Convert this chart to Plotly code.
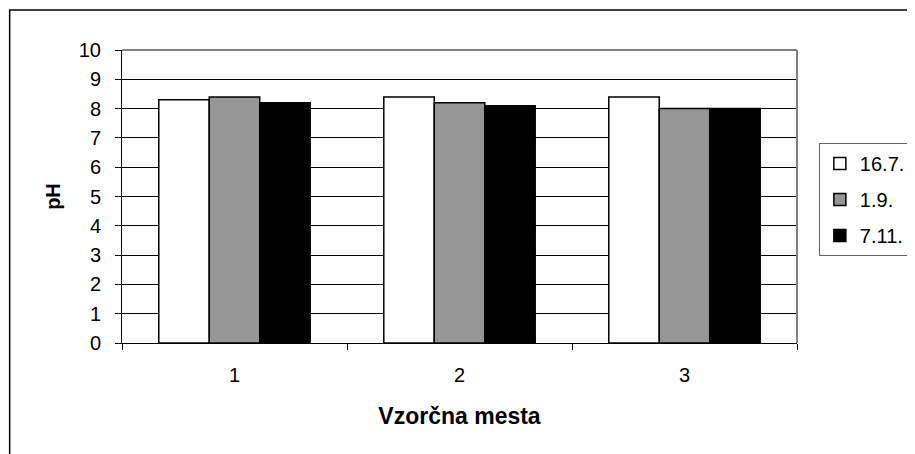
import plotly.graph_objects as go

categories = ["1", "2", "3"]
series_names = ["16.7.", "1.9.", "7.11."]
values_167 = [8.3, 8.4, 8.4]
values_19 = [8.4, 8.2, 8.0]
values_711 = [8.2, 8.1, 8.0]
y_ticks = [0, 1, 2, 3, 4, 5, 6, 7, 8, 9, 10]

FONT = "Arial, 'Liberation Sans', sans-serif"
colors = ["#FFFFFF", "#969696", "#000000"]
series_values = [values_167, values_19, values_711]

fig = go.Figure()
for i, (name, vals, col) in enumerate(zip(series_names, series_values, colors)):
    fig.add_trace(go.Bar(
        x=categories, y=vals, name=name,
        marker=dict(color=col, line=dict(color="#000000", width=1.5)),
        legendgroup="g%d" % i,
    ))

# page offset caused by the default 8px body margin of the html page
OFF = 8
W, H = 915, 454
# plot-area edges in page pixels
P_LEFT, P_RIGHT, P_TOP, P_BOTTOM = 122, 801, 50, 343
L = P_LEFT - OFF
R = W - (P_RIGHT - OFF)
T = P_TOP - OFF
B = H - (P_BOTTOM - OFF)
pw = W - L - R
ph = H - T - B

def px_x(p):
    return (p - OFF - L) / pw

def px_y(p):
    return (H - B - (p - OFF)) / ph

fig.update_layout(
    width=W, height=H,
    margin=dict(l=L, r=R, t=T, b=B, pad=0),
    paper_bgcolor="white", plot_bgcolor="white",
    barmode="group", bargap=0.327, bargroupgap=0,
    font=dict(family=FONT, size=20, color="black"),
    showlegend=True,
    legend=dict(
        x=px_x(823), y=px_y(143), xanchor="left", yanchor="top",
        bordercolor="#666666", borderwidth=1, bgcolor="white",
        font=dict(family=FONT, size=20, color="black"),
        tracegroupgap=7, traceorder="grouped",
        itemwidth=30,
    ),
    xaxis=dict(
        type="category", range=[-0.5, 2.5],
        showline=True, linecolor="black", linewidth=1,
        ticks="outside", ticklen=6, tickcolor="black", tickson="boundaries",
        showgrid=False, zeroline=False,
        tickfont=dict(family=FONT, size=20),
        ticklabelstandoff=14,
        title=dict(text="<b>Vzorčna mesta</b>", font=dict(family=FONT, size=23), standoff=22),
    ),
    yaxis=dict(
        range=[0, 10], tickvals=y_ticks,
        showline=True, linecolor="black", linewidth=1,
        ticks="outside", ticklen=6, tickcolor="black",
        showgrid=True, gridcolor="black", gridwidth=1,
        zeroline=False,
        tickfont=dict(family=FONT, size=20),
        ticklabelstandoff=10,
        title=dict(text="<b>pH</b>", font=dict(family=FONT, size=20), standoff=12),
    ),
    shapes=[
        # plot-area border (top / right, gray)
        dict(type="line", xref="paper", yref="paper", x0=0, x1=1, y0=1, y1=1,
             line=dict(color="#808080", width=2), layer="above"),
        dict(type="line", xref="paper", yref="paper", x0=1, x1=1, y0=0, y1=1,
             line=dict(color="#808080", width=2), layer="above"),
        # outer chart border
        dict(type="rect", xref="paper", yref="paper",
             x0=px_x(9), x1=px_x(935), y0=px_y(10), y1=px_y(480),
             line=dict(color="black", width=1.5), fillcolor="rgba(0,0,0,0)"),
    ],
)

fig.write_html("out.html")
